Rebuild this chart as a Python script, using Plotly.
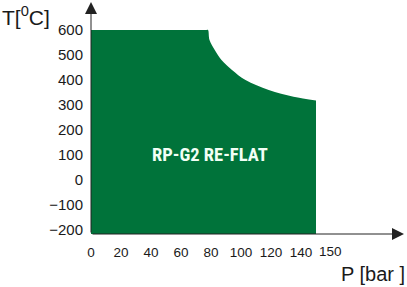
import plotly.graph_objects as go

# ---- data ----
P_CURVE = [0, 77, 78, 79, 82.5, 87, 94, 103, 118.5, 135, 150]          # bar
T_CURVE = [600, 600, 600, 560, 520, 480, 440, 400, 360, 333, 318]      # degC
X_TICKS = [0, 20, 40, 60, 80, 100, 120, 140]
X_LAST_TICK = 150
Y_TICKS = [-200, -100, 0, 100, 200, 300, 400, 500, 600]
LABEL = "RP-G2 RE-FLAT"
LABEL_POS = (79, 100)

# ---- axis extents ----
X_RANGE = [0, 208.67]
Y_RANGE = [-216, 712]

GREEN = "#00733A"
TXT = "#1a1a1a"
FONT = "Liberation Sans, Arial, sans-serif"

fig = go.Figure()
# baseline (axis floor) for the filled region
fig.add_trace(go.Scatter(x=[P_CURVE[0], P_CURVE[-1]], y=[Y_RANGE[0], Y_RANGE[0]],
                         mode="lines", line=dict(width=0, color=GREEN),
                         hoverinfo="skip", showlegend=False))
fig.add_trace(go.Scatter(x=P_CURVE, y=T_CURVE, mode="lines",
                         line=dict(width=0, color=GREEN, shape="spline", smoothing=1),
                         fill="tonexty", fillcolor=GREEN,
                         hoverinfo="skip", showlegend=False))

annotations = [
    # axes with arrow heads
    dict(x=0, y=Y_RANGE[1], xref="x", yref="y", ax=0, ay=Y_RANGE[0],
         axref="x", ayref="y", text="", showarrow=True, arrowhead=2,
         arrowsize=2.4, arrowwidth=1, arrowcolor="#222"),
    dict(x=X_RANGE[1], y=Y_RANGE[0], xref="x", yref="y", ax=0, ay=Y_RANGE[0],
         axref="x", ayref="y", text="", showarrow=True, arrowhead=2,
         arrowsize=2.4, arrowwidth=1, arrowcolor="#222"),
    # last x tick label
    dict(x=X_LAST_TICK, y=0, xref="x", yref="paper", text=str(X_LAST_TICK),
         showarrow=False, xanchor="center", yanchor="top", xshift=14, yshift=-8,
         font=dict(family=FONT, size=13.5, color=TXT)),
    # axis titles
    dict(x=0, y=1, xref="paper", yref="paper", text="T[<sup>0</sup>C]",
         showarrow=False, xanchor="right", yanchor="top", xshift=-39, yshift=1,
         font=dict(family=FONT, size=21, color=TXT)),
    dict(x=1, y=0, xref="paper", yref="paper", text="P [bar ]",
         showarrow=False, xanchor="right", yanchor="top", xshift=3, yshift=-27,
         font=dict(family=FONT, size=20, color=TXT)),
    # label in the region
    dict(x=LABEL_POS[0], y=LABEL_POS[1], xref="x", yref="y", text="<b>" + LABEL + "</b>",
         showarrow=False, xanchor="center", yanchor="middle",
         font=dict(family="Roboto Condensed, Liberation Sans Narrow, Roboto, sans-serif",
                   size=18.5, color="#f2fff5")),
]

fig.update_layout(
    width=407, height=287,
    margin=dict(l=91, r=3, t=2, b=53),
    paper_bgcolor="white", plot_bgcolor="white",
    showlegend=False,
    annotations=annotations,
    xaxis=dict(range=X_RANGE, tickmode="array", tickvals=X_TICKS,
               showgrid=False, zeroline=False, showline=False, ticks="",
               ticklabelstandoff=8,
               tickfont=dict(family=FONT, size=13.5, color=TXT), fixedrange=True),
    yaxis=dict(range=Y_RANGE, tickmode="array", tickvals=Y_TICKS,
               showgrid=False, zeroline=False, showline=False, ticks="",
               ticklabelstandoff=7,
               tickfont=dict(family=FONT, size=15, color=TXT), fixedrange=True),
)

fig.write_html("out.html")
